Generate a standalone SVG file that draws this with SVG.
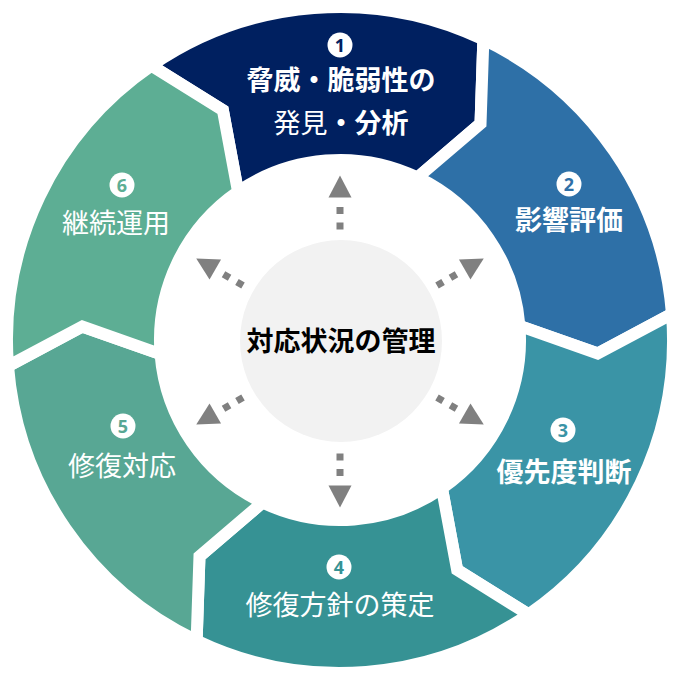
<svg xmlns="http://www.w3.org/2000/svg" width="679" height="678" viewBox="0 0 679 678">
<style>
.seg{stroke:#fff;stroke-width:12;stroke-linejoin:miter;stroke-miterlimit:10}
.t{font-family:"Noto Sans CJK JP","Noto Sans CJK SC",sans-serif;font-size:27px;fill:#fff;text-anchor:middle}
.b{font-weight:700}
.r{font-weight:400}
.nc{fill:#fff}
.n{font-family:"Noto Sans","Liberation Sans",sans-serif;font-size:18px;font-weight:700;text-anchor:middle}
.dot{stroke:#808080;stroke-width:7;stroke-dasharray:7 8.5;fill:none}
.head{fill:#808080}
</style>
<rect width="679" height="678" fill="#fff"/>
<circle cx="340" cy="340" r="335" fill="none" stroke="#f1f1f1" stroke-width="1.2"/>
<circle cx="340" cy="340" r="176" fill="none" stroke="#f3f3f3" stroke-width="1.2"/>
<g id="node1">
<path class="seg" fill="#002060" d="M151.39,65.56 A333,333 0 0 1 483.36,39.44 L480.52,123.62 L417.49,177.53 A180,180 0 0 0 238.05,191.66 L222.87,110.12 Z"/>
<circle class="nc" cx="340" cy="45" r="12.5"/>
<text class="n" x="340" y="51.5" fill="#002060">1</text>
<text class="t b" x="341" y="90">脅威・脆弱性の</text>
<text class="t" x="341" y="133"><tspan class="r">発見</tspan><tspan class="b">・分析</tspan></text>
</g>
<g id="node2">
<path class="seg" fill="#2E70A7" d="M483.36,39.44 A333,333 0 0 1 671.97,313.87 L597.65,353.5 L519.45,325.88 A180,180 0 0 0 417.49,177.53 L480.52,123.62 Z"/>
<circle class="nc" cx="569" cy="184" r="12.5"/>
<text class="n" x="569" y="190.5" fill="#2E70A7">2</text>
<text class="t b" x="569" y="230">影響評価</text>
</g>
<g id="node3">
<path class="seg" fill="#3A94A6" d="M671.97,313.87 A333,333 0 0 1 528.61,614.44 L457.13,569.88 L441.95,488.34 A180,180 0 0 0 519.45,325.88 L597.65,353.5 Z"/>
<circle class="nc" cx="563" cy="430" r="12.5"/>
<text class="n" x="563" y="436.5" fill="#3A94A6">3</text>
<text class="t b" x="564" y="482">優先度判断</text>
</g>
<g id="node4">
<path class="seg" fill="#369294" d="M528.61,614.44 A333,333 0 0 1 196.64,640.56 L199.48,556.38 L262.51,502.47 A180,180 0 0 0 441.95,488.34 L457.13,569.88 Z"/>
<circle class="nc" cx="339" cy="567" r="12.5"/>
<text class="n" x="339" y="573.5" fill="#369294">4</text>
<text class="t r" x="340" y="615">修復方針の策定</text>
</g>
<g id="node5">
<path class="seg" fill="#58A794" d="M196.64,640.56 A333,333 0 0 1 8.03,366.13 L82.35,326.5 L160.55,354.12 A180,180 0 0 0 262.51,502.47 L199.48,556.38 Z"/>
<circle class="nc" cx="123" cy="426" r="12.5"/>
<text class="n" x="123" y="432.5" fill="#58A794">5</text>
<text class="t r" x="122" y="476">修復対応</text>
</g>
<g id="node6">
<path class="seg" fill="#5DAE94" d="M8.03,366.13 A333,333 0 0 1 151.39,65.56 L222.87,110.12 L238.05,191.66 A180,180 0 0 0 160.55,354.12 L82.35,326.5 Z"/>
<circle class="nc" cx="122" cy="185" r="12.5"/>
<text class="n" x="122" y="191.5" fill="#5DAE94">6</text>
<text class="t r" x="116" y="233">継続運用</text>
</g>
<g id="center">
<circle cx="341" cy="341" r="101" fill="#f2f2f2"/>
<text class="t b" x="341" y="351" style="fill:#000">対応状況の管理</text>
</g>
<g id="connectors">
<g transform="rotate(0 340 341.5)"><line class="dot" x1="340" y1="229.5" x2="340" y2="206"/><polygon class="head" points="328.5,197.5 351.5,197.5 340,175.5"/></g>
<g transform="rotate(60 340 341.5)"><line class="dot" x1="340" y1="229.5" x2="340" y2="206"/><polygon class="head" points="328.5,197.5 351.5,197.5 340,175.5"/></g>
<g transform="rotate(120 340 341.5)"><line class="dot" x1="340" y1="229.5" x2="340" y2="206"/><polygon class="head" points="328.5,197.5 351.5,197.5 340,175.5"/></g>
<g transform="rotate(180 340 341.5)"><line class="dot" x1="340" y1="229.5" x2="340" y2="206"/><polygon class="head" points="328.5,197.5 351.5,197.5 340,175.5"/></g>
<g transform="rotate(240 340 341.5)"><line class="dot" x1="340" y1="229.5" x2="340" y2="206"/><polygon class="head" points="328.5,197.5 351.5,197.5 340,175.5"/></g>
<g transform="rotate(300 340 341.5)"><line class="dot" x1="340" y1="229.5" x2="340" y2="206"/><polygon class="head" points="328.5,197.5 351.5,197.5 340,175.5"/></g>
</g>
</svg>
